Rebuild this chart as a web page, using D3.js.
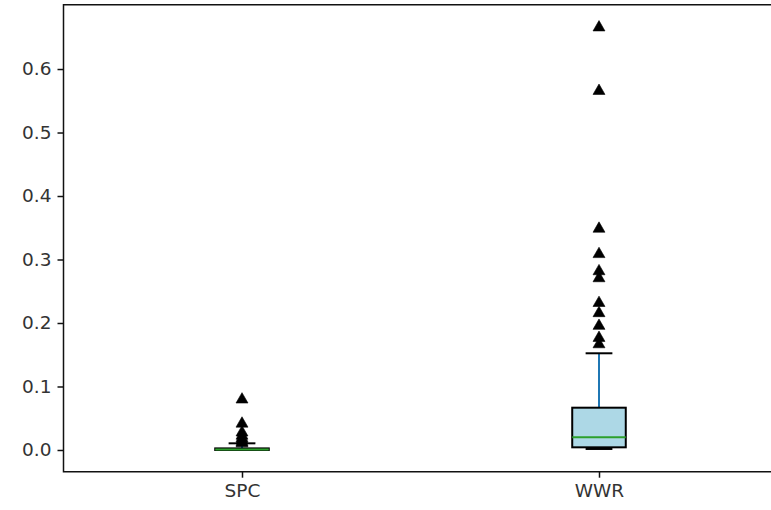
<!DOCTYPE html>
<html>
<head>
<meta charset="utf-8">
<script src="https://cdn.jsdelivr.net/npm/d3@7"></script>
<style>
  body { margin: 0; background: #fff; }
  svg { display: block; }
</style>
</head>
<body>
<div id="chart"></div>
<script>
// box statistics
const categories = ["SPC", "WWR"];
const q1 = [0.0, 0.0042];
const medians = [0.0008, 0.020];
const q3 = [0.0025, 0.0666];
const whiskerLow = [0.0, 0.0016];
const whiskerHigh = [0.0105, 0.1523];
const outliersSPC = [0.081, 0.043, 0.029, 0.024, 0.020, 0.017, 0.014, 0.012];
const outliersWWR = [0.667, 0.567, 0.350, 0.310, 0.283, 0.272, 0.233, 0.217, 0.197, 0.178, 0.168];
const yTicks = [0.0, 0.1, 0.2, 0.3, 0.4, 0.5, 0.6];

const width = 771, height = 510;
const plotLeft = 63.5, plotTop = 4.7, plotBottom = 471.7;
const boxWidth = 0.15;
const lw = 2;

const svg = d3.select("#chart").append("svg")
    .attr("width", width)
    .attr("height", height);

// positions 1,2 -> [0.5, 2.5]; right spine falls off the canvas
const x = d3.scaleLinear().domain([0.5, 2.5]).range([plotLeft, plotLeft + 714]);
const y = d3.scaleLinear().domain([-0.0342, 0.7013]).range([plotBottom, plotTop]);

const pos = categories.map((c, i) => i + 1);
const outliers = [outliersSPC, outliersWWR];

const g = svg.append("g");

// whiskers
pos.forEach((p, i) => {
    g.append("line")
        .attr("x1", x(p)).attr("x2", x(p))
        .attr("y1", y(q3[i])).attr("y2", y(whiskerHigh[i]))
        .attr("stroke", "#1f77b4").attr("stroke-width", lw);
    g.append("line")
        .attr("x1", x(p)).attr("x2", x(p))
        .attr("y1", y(q1[i])).attr("y2", y(whiskerLow[i]))
        .attr("stroke", "#1f77b4").attr("stroke-width", lw);
});

// boxes
g.selectAll("rect.box")
    .data(pos)
    .enter()
    .append("rect")
    .attr("class", "box")
    .attr("x", p => x(p - boxWidth / 2))
    .attr("width", x(boxWidth) - x(0))
    .attr("y", (p, i) => y(q3[i]))
    .attr("height", (p, i) => y(q1[i]) - y(q3[i]))
    .attr("fill", "#add8e6")
    .attr("stroke", "black")
    .attr("stroke-width", lw);

// caps
pos.forEach((p, i) => {
    [whiskerLow[i], whiskerHigh[i]].forEach(v => {
        g.append("line")
            .attr("x1", x(p - boxWidth / 4)).attr("x2", x(p + boxWidth / 4))
            .attr("y1", y(v)).attr("y2", y(v))
            .attr("stroke", "black").attr("stroke-width", lw);
    });
});

// medians
g.selectAll("line.median")
    .data(pos)
    .enter()
    .append("line")
    .attr("class", "median")
    .attr("x1", p => x(p - boxWidth / 2))
    .attr("x2", p => x(p + boxWidth / 2))
    .attr("y1", (p, i) => y(medians[i]))
    .attr("y2", (p, i) => y(medians[i]))
    .attr("stroke", "#2ca02c")
    .attr("stroke-width", lw);

// fliers as black triangles
const tri = d3.symbol().type(d3.symbolTriangle).size(62);
pos.forEach((p, i) => {
    g.append("g")
        .selectAll("path")
        .data(outliers[i])
        .enter()
        .append("path")
        .attr("d", tri)
        .attr("transform", v => `translate(${x(p)}, ${y(v) + 1})`)
        .attr("fill", "black")
        .attr("stroke", "black")
        .attr("stroke-width", 0.6);
});

// spines
svg.append("path")
    .attr("d", `M${width + 5},${plotTop}H${plotLeft}V${plotBottom}H${width + 5}`)
    .attr("fill", "none")
    .attr("stroke", "#111")
    .attr("stroke-width", 1.5);

// axes
const yAxis = d3.axisLeft(y)
    .tickValues(yTicks)
    .tickFormat(d3.format(".1f"))
    .tickSize(6)
    .tickPadding(6);
const xAxis = d3.axisBottom(x)
    .tickValues(pos)
    .tickFormat((d, i) => categories[i])
    .tickSize(6)
    .tickPadding(6);

const ya = svg.append("g").attr("transform", `translate(${plotLeft},0)`).call(yAxis);
const xa = svg.append("g").attr("transform", `translate(0,${plotBottom})`).call(xAxis);

[ya, xa].forEach(a => {
    a.select(".domain").remove();
    a.selectAll(".tick line").attr("stroke", "#111").attr("stroke-width", 1.5);
    a.selectAll(".tick text")
        .attr("fill", "#333")
        .attr("font-family", "DejaVu Sans")
        .attr("font-size", 18.5);
});
</script>
</body>
</html>
